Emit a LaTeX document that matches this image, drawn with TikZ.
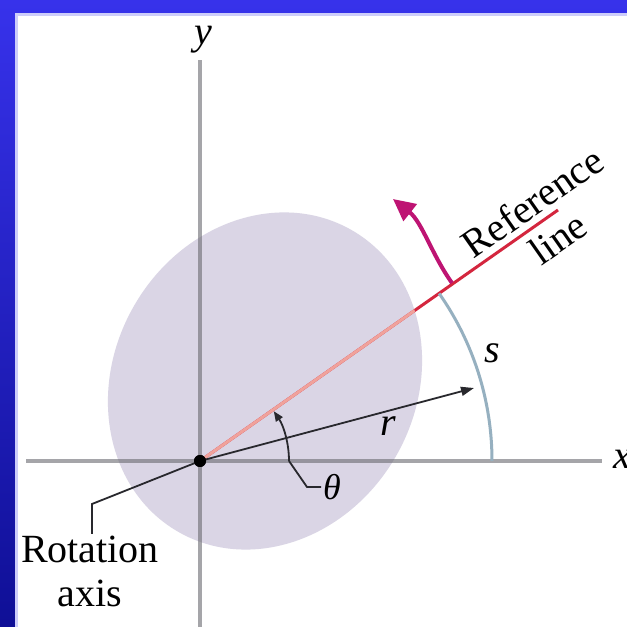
\documentclass[tikz,border=0pt]{standalone}
\usepackage{fontspec}
\setmainfont{Liberation Serif}
\usetikzlibrary{arrows.meta}
\definecolor{bluetop}{RGB}{55,50,235}
\definecolor{bluebot}{RGB}{15,15,150}
\definecolor{edgeblue}{RGB}{205,205,250}
\definecolor{diskcol}{RGB}{218,213,229}
\definecolor{refred}{RGB}{212,38,62}
\definecolor{salmon}{RGB}{240,162,155}
\definecolor{arccol}{RGB}{150,176,192}
\definecolor{magcol}{RGB}{190,20,115}
\definecolor{axiscol}{RGB}{105,105,112}
\definecolor{inkcol}{RGB}{40,40,45}
\begin{document}
\begin{tikzpicture}[x=1pt,y=1pt,
  lbl/.style={font=\fontsize{40}{44}\selectfont\rmfamily, inner sep=0pt, text=black},
  ilbl/.style={font=\fontsize{40}{44}\selectfont\rmfamily\itshape, inner sep=0pt, text=black},
  axisline/.style={draw=axiscol, draw opacity=0.6, line width=4pt},
  thinink/.style={draw=inkcol, line width=1.8pt},
  dotnode/.style={circle, fill=black, inner sep=0pt, minimum size=12pt},
  diskshape/.style={rotate around={60:(C)}}]
\useasboundingbox (0,0) rectangle (627,627);
% frame
\shade[top color=bluetop, bottom color=bluebot] (0,0) rectangle (627,627);
\fill[white] (15,0) rectangle (627,614);
\draw[edgeblue, line width=3pt] (16.5,0) -- (16.5,612.5) -- (627,612.5);
% coordinates
\coordinate (O) at (200,166);
\coordinate (R) at (558,417);
\coordinate (C) at (265,246);
\coordinate (xl) at (26,166);
\coordinate (xr) at (602,166);
\coordinate (yb) at (200,0);
\coordinate (yt) at (200,567);
% disk
\fill[diskcol, diskshape] (C) ellipse[x radius=174, y radius=151];
% reference line
\draw[refred, line width=3pt] (O) -- (R);
\begin{scope}
\clip[diskshape] (C) ellipse[x radius=174, y radius=151];
\draw[salmon, line width=3pt] (O) -- (R);
\end{scope}
% axes
\draw[axisline] (xl) -- (xr);
\draw[axisline] (yb) -- (yt);
\node[ilbl] (ylab) at (203,587) {y};
\node[ilbl, anchor=west] (xlab) at (613,168) {x};
% arc s
\coordinate (sA) at (492,166);
\draw[arccol, line width=3pt] (sA) arc[start angle=0, end angle=35, radius=292];
\node[ilbl] (slab) at (492,274) {s};
% rotation arrow
\coordinate (mA) at (452,344);
\coordinate (mB) at (393,428);
\draw[magcol, line width=4pt, -{Triangle[length=22pt,width=21pt]}] (mA) .. controls (432,372) and (422,405) .. (mB);
% r vector
\node[dotnode] (dot) at (O) {};
\coordinate (rTip) at (474,239);
\draw[thinink, -{Triangle[length=13pt,width=9pt]}] (O) -- (rTip);
\node[ilbl] (rlab) at (388,201) {r};
% theta
\coordinate (tA) at (289,166);
\coordinate (tB) at (307,140);
\coordinate (tC) at (321,140);
\draw[thinink, -{Triangle[length=10pt,width=8pt]}] (tA) arc[start angle=0, end angle=34, radius=89];
\draw[thinink] (tA) -- (tB) -- (tC);
\node[ilbl, anchor=west, font=\fontsize{36}{40}\selectfont\rmfamily\itshape] (thlab) at (323,140) {θ};
% rotation axis leader
\coordinate (lc) at (92,123);
\coordinate (lb) at (92,93);
\draw[thinink] (O) -- (lc) -- (lb);
\node[lbl, align=center, anchor=north] (rotlab) at (90,91) {Rotation\\axis};
% reference line label
\node[lbl, align=center, rotate=35] (reflab) at (545,407) {Reference\\line};
\node[dotnode] (dot2) at (O) {};
\end{tikzpicture}
\end{document}
